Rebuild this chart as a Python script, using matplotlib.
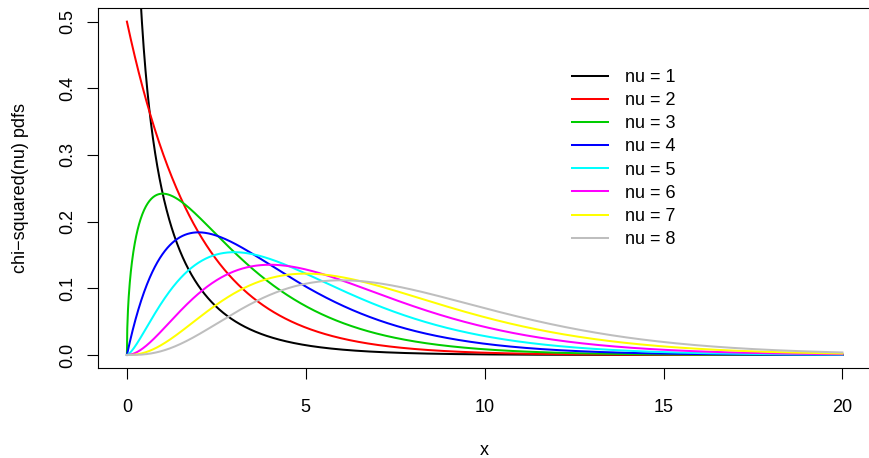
import math
import numpy as np
import matplotlib
matplotlib.use('Agg')
import matplotlib.pyplot as plt

# degrees of freedom and colours of the curves
nus = [1, 2, 3, 4, 5, 6, 7, 8]
colors = ['#000000', '#FF0000', '#00CD00', '#0000FF', '#00FFFF', '#FF00FF', '#FFFF00', '#BEBEBE']
labels = ['nu = {}'.format(n) for n in nus]
x_ticks = [0, 5, 10, 15, 20]
y_ticks = [0.0, 0.1, 0.2, 0.3, 0.4, 0.5]
y_ticklabels = ['0.0', '0.1', '0.2', '0.3', '0.4', '0.5']
xs = np.linspace(0, 20, 2001)


def chisq_pdf(x, k):
    with np.errstate(divide='ignore', invalid='ignore'):
        y = x ** (k / 2 - 1) * np.exp(-x / 2) / (2 ** (k / 2) * math.gamma(k / 2))
    y[~np.isfinite(y)] = np.nan
    return y


plt.rcParams['font.family'] = ['Liberation Sans', 'DejaVu Sans']
fig = plt.figure(figsize=(8.69, 4.58), dpi=100)
ax = fig.add_axes([98.3 / 869, 1 - 368.3 / 458, (871 - 98.3) / 869, (368.3 - 8.3) / 458])

for n, c, lab in zip(nus, colors, labels):
    ax.plot(xs, chisq_pdf(xs, n), color=c, lw=1.45, label=lab)

ax.set_xlim(-0.8, 20.8)
ax.set_ylim(-0.02, 0.52)
ax.set_xticks(x_ticks)
ax.set_yticks(y_ticks)
ax.set_yticklabels(y_ticklabels, rotation=90, va='center')
ax.tick_params(direction='out', length=8, width=0.8, labelsize=13)
ax.tick_params(axis='x', pad=13.8)
ax.tick_params(axis='y', pad=8)
for s in ax.spines.values():
    s.set_linewidth(0.8)
ax.set_xlabel('x', fontsize=13, labelpad=19)
ax.set_ylabel('chi\u2212squared(nu) pdfs', fontsize=13, labelpad=22)

ax.legend(loc='upper left', bbox_to_anchor=(572 / 869, 1 - 69 / 458), bbox_transform=fig.transFigure,
          frameon=False, fontsize=13, handlelength=2.0, handletextpad=0.95, labelspacing=0.34,
          borderpad=0, borderaxespad=0)

fig.savefig('out.png', dpi=100)
